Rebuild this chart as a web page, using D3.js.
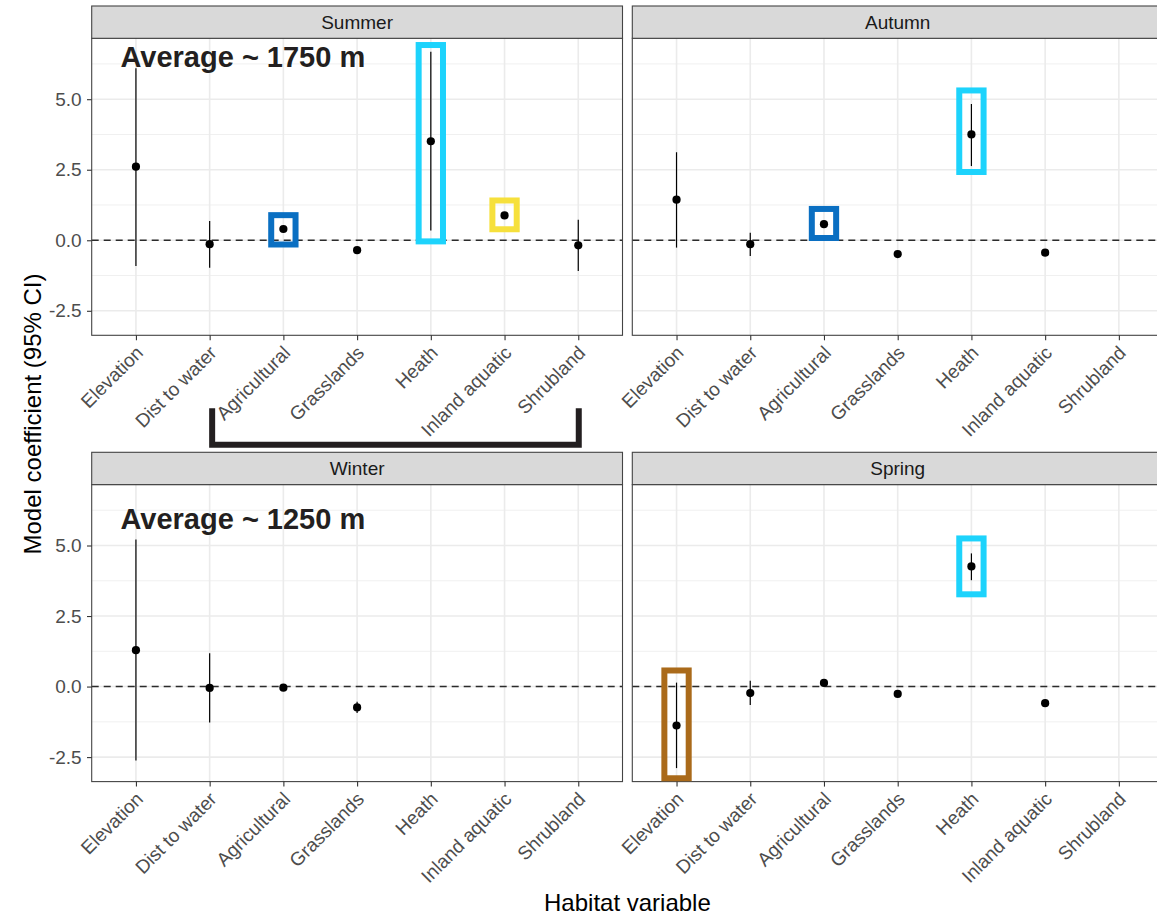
<!DOCTYPE html>
<html>
<head>
<meta charset="utf-8">
<script src="https://cdn.jsdelivr.net/npm/d3@7"></script>
<style>
  body { margin: 0; background: #fff; }
  svg { display: block; }
</style>
</head>
<body>
<svg id="chart" width="1157" height="917"></svg>
<script>
// Habitat variables (x categories) and seasons (facets)
const categories = ["Elevation", "Dist to water", "Agricultural", "Grasslands", "Heath", "Inland aquatic", "Shrubland"];
const seasons = ["Summer", "Autumn", "Winter", "Spring"];

// Model coefficients with 95% CI bounds (null = variable not in the model)
const summerEst = [2.61, -0.14, 0.40, -0.35, 3.51, 0.88, -0.18];
const summerLo  = [-0.91, -0.97, 0.33, -0.42, 0.35, 0.81, -1.09];
const summerHi  = [6.10, 0.68, 0.47, -0.28, 6.68, 0.95, 0.73];

const autumnEst = [1.44, -0.14, 0.57, -0.49, 3.75, -0.44, null];
const autumnLo  = [-0.26, -0.56, 0.50, -0.56, 2.63, -0.51, null];
const autumnHi  = [3.12, 0.27, 0.64, -0.42, 4.83, -0.37, null];

const winterEst = [1.29, -0.05, -0.04, -0.74, null, null, null];
const winterLo  = [-2.62, -1.27, -0.11, -0.94, null, null, null];
const winterHi  = [5.21, 1.18, 0.03, -0.54, null, null, null];

const springEst = [-1.38, -0.23, 0.13, -0.26, 4.26, -0.59, null];
const springLo  = [-2.89, -0.65, 0.06, -0.33, 3.77, -0.66, null];
const springHi  = [0.14, 0.21, 0.20, -0.19, 4.72, -0.52, null];

// Y axis breaks
const yTicks = [-2.5, 0, 2.5, 5];
const yMinorTicks = [-1.25, 1.25, 3.75, 6.25];

// Highlight frames drawn around selected coefficients (y extents in coefficient units)
const highlightBoxes = [
  { season: "Summer", category: "Agricultural",   top: 0.89, bottom: -0.15, colour: "#0A6FC2" },
  { season: "Summer", category: "Heath",          top: 6.92, bottom: -0.04, colour: "#1DD3FC" },
  { season: "Summer", category: "Inland aquatic", top: 1.41, bottom: 0.39,  colour: "#F6E03C" },
  { season: "Autumn", category: "Agricultural",   top: 1.11, bottom: 0.08,  colour: "#0A6FC2" },
  { season: "Autumn", category: "Heath",          top: 5.31, bottom: 2.42,  colour: "#1DD3FC" },
  { season: "Spring", category: "Heath",          top: 5.25, bottom: 3.27,  colour: "#1DD3FC" },
  { season: "Spring", category: "Elevation",      top: 0.57, bottom: -3.25, colour: "#AA6A1A" }
];

// Panel notes
const panelNotes = [
  { season: "Summer", text: "Average ~ 1750 m", y: 6.15 },
  { season: "Winter", text: "Average ~ 1250 m", y: 5.585 }
];

// Bracket grouping the land-cover variables under the Summer panel
const bracket = { season: "Summer", from: "Dist to water", to: "Shrubland" };

const seriesBySeason = {
  Summer: { est: summerEst, lo: summerLo, hi: summerHi },
  Autumn: { est: autumnEst, lo: autumnLo, hi: autumnHi },
  Winter: { est: winterEst, lo: winterLo, hi: winterHi },
  Spring: { est: springEst, lo: springLo, hi: springHi }
};

// ---- layout ----
const svg = d3.select("#chart");
const FONT = "'Liberation Sans', Arial, Helvetica, sans-serif";
const colLeft = [91.7, 632.3];
const panelW = 530.8;
const rowStripTop = [6, 452.3];
const stripH = 32.3;
const panelH = 297;

// Shared y range: data extent expanded 5% each side
const allVals = [];
seasons.forEach(s => {
  const d = seriesBySeason[s];
  d.lo.forEach(v => { if (v != null) allVals.push(v); });
  d.hi.forEach(v => { if (v != null) allVals.push(v); });
});
const yLo = d3.min(allVals), yHi = d3.max(allVals);
const pad = (yHi - yLo) * 0.05;
const yDomain = [yLo - pad, yHi + pad];

const panels = seasons.map((s, i) => {
  const left = colLeft[i % 2];
  const stripTop = rowStripTop[Math.floor(i / 2)];
  const top = stripTop + stripH;
  const bottom = top + panelH;
  const x = d3.scalePoint().domain(categories).range([left, left + panelW]).padding(0.6);
  const y = d3.scaleLinear().domain(yDomain).range([bottom, top]);
  return { season: s, index: i, left, stripTop, top, bottom, x, y, showY: i % 2 === 0 };
});
const panelOf = s => panels.find(p => p.season === s);

panels.forEach(p => {
  const g = svg.append("g");
  const d = seriesBySeason[p.season];

  // panel background
  g.append("rect").attr("x", p.left).attr("y", p.top).attr("width", panelW).attr("height", panelH)
    .attr("fill", "#fff");

  // minor grid
  g.selectAll(".minor").data(yMinorTicks).enter().append("line")
    .attr("x1", p.left).attr("x2", p.left + panelW)
    .attr("y1", v => p.y(v)).attr("y2", v => p.y(v))
    .attr("stroke", "#F0F0F0").attr("stroke-width", 1);

  // major grid
  g.selectAll(".majorY").data(yTicks).enter().append("line")
    .attr("x1", p.left).attr("x2", p.left + panelW)
    .attr("y1", v => p.y(v)).attr("y2", v => p.y(v))
    .attr("stroke", "#EBEBEB").attr("stroke-width", 1.6);
  g.selectAll(".majorX").data(categories).enter().append("line")
    .attr("x1", c => p.x(c)).attr("x2", c => p.x(c))
    .attr("y1", p.top).attr("y2", p.bottom)
    .attr("stroke", "#EBEBEB").attr("stroke-width", 1.6);

  // zero reference line
  g.append("line")
    .attr("x1", p.left).attr("x2", p.left + panelW)
    .attr("y1", p.y(0)).attr("y2", p.y(0))
    .attr("stroke", "#2b2b2b").attr("stroke-width", 1.5).attr("stroke-dasharray", "7,5");

  const rows = categories.map((c, i) => ({ c, est: d.est[i], lo: d.lo[i], hi: d.hi[i] }))
    .filter(r => r.est != null);

  // confidence intervals
  g.selectAll(".ci").data(rows).enter().append("line")
    .attr("x1", r => p.x(r.c)).attr("x2", r => p.x(r.c))
    .attr("y1", r => p.y(r.lo)).attr("y2", r => p.y(r.hi))
    .attr("stroke", "#000").attr("stroke-width", 1.2);

  // estimates
  g.selectAll(".pt").data(rows).enter().append("circle")
    .attr("cx", r => p.x(r.c)).attr("cy", r => p.y(r.est)).attr("r", 4.1)
    .attr("fill", "#000");

  // panel border
  g.append("rect").attr("x", p.left).attr("y", p.top).attr("width", panelW).attr("height", panelH)
    .attr("fill", "none").attr("stroke", "#444").attr("stroke-width", 1.1);

  // strip
  g.append("rect").attr("x", p.left).attr("y", p.stripTop).attr("width", panelW).attr("height", stripH)
    .attr("fill", "#D9D9D9").attr("stroke", "#444").attr("stroke-width", 1.1);
  g.append("text").attr("x", p.left + panelW / 2).attr("y", p.stripTop + stripH / 2)
    .attr("dy", "0.35em").attr("text-anchor", "middle")
    .attr("font-family", FONT).attr("font-size", 19).attr("fill", "#1A1A1A")
    .text(p.season);

  // x axis
  const xAxis = g.append("g").attr("transform", `translate(0,${p.bottom})`)
    .call(d3.axisBottom(p.x).tickSize(5).tickSizeOuter(0));
  xAxis.select(".domain").remove();
  xAxis.selectAll(".tick line").attr("stroke", "#333").attr("stroke-width", 1.1);
  xAxis.selectAll(".tick text")
    .attr("x", 0).attr("y", 0).attr("dy", "0.72em")
    .attr("transform", "translate(-2,9) rotate(-45)")
    .attr("text-anchor", "end")
    .attr("font-family", FONT).attr("font-size", 19).attr("fill", "#4D4D4D");

  // y axis (left column only)
  if (p.showY) {
    const yAxis = g.append("g").attr("transform", `translate(${p.left},0)`)
      .call(d3.axisLeft(p.y).tickValues(yTicks).tickFormat(v => v.toFixed(1))
        .tickSize(4.7).tickPadding(5.3).tickSizeOuter(0));
    yAxis.select(".domain").remove();
    yAxis.selectAll(".tick line").attr("stroke", "#333").attr("stroke-width", 1.1);
    yAxis.selectAll(".tick text")
      .attr("font-family", FONT).attr("font-size", 19).attr("fill", "#4D4D4D");
  }
});

// highlight frames
const boxHalf = 0.165; // half width in category steps
highlightBoxes.forEach(b => {
  const p = panelOf(b.season);
  const step = p.x.step();
  const cx = p.x(b.category);
  svg.append("rect")
    .attr("x", cx - boxHalf * step).attr("width", 2 * boxHalf * step)
    .attr("y", p.y(b.top)).attr("height", p.y(b.bottom) - p.y(b.top))
    .attr("fill", "none").attr("stroke", b.colour).attr("stroke-width", 6);
});

// panel notes
panelNotes.forEach(n => {
  const p = panelOf(n.season);
  svg.append("text")
    .attr("x", p.x(categories[0]) - 0.21 * p.x.step())
    .attr("y", p.y(n.y))
    .attr("font-family", FONT).attr("font-size", 29).attr("font-weight", "bold")
    .attr("fill", "#231F20")
    .text(n.text);
});

// bracket under the Summer labels
{
  const p = panelOf(bracket.season);
  const x1 = p.x(bracket.from) + 2.5, x2 = p.x(bracket.to) + 0.5;
  const yTop = p.bottom + 73, yBot = p.bottom + 109.5;
  svg.append("path")
    .attr("d", `M${x1},${yTop} V${yBot} H${x2} V${yTop}`)
    .attr("fill", "none").attr("stroke", "#231F20").attr("stroke-width", 6)
    .attr("stroke-linejoin", "miter");
}

// axis titles
const plotLeft = colLeft[0], plotRight = colLeft[1] + panelW;
svg.append("text")
  .attr("x", (plotLeft + plotRight) / 2).attr("y", 911)
  .attr("text-anchor", "middle")
  .attr("font-family", FONT).attr("font-size", 24).attr("fill", "#000")
  .text("Habitat variable");
svg.append("text")
  .attr("transform", "translate(41,414) rotate(-90)")
  .attr("text-anchor", "middle")
  .attr("font-family", FONT).attr("font-size", 24).attr("fill", "#000")
  .text("Model coefficient (95% CI)");
</script>
</body>
</html>
